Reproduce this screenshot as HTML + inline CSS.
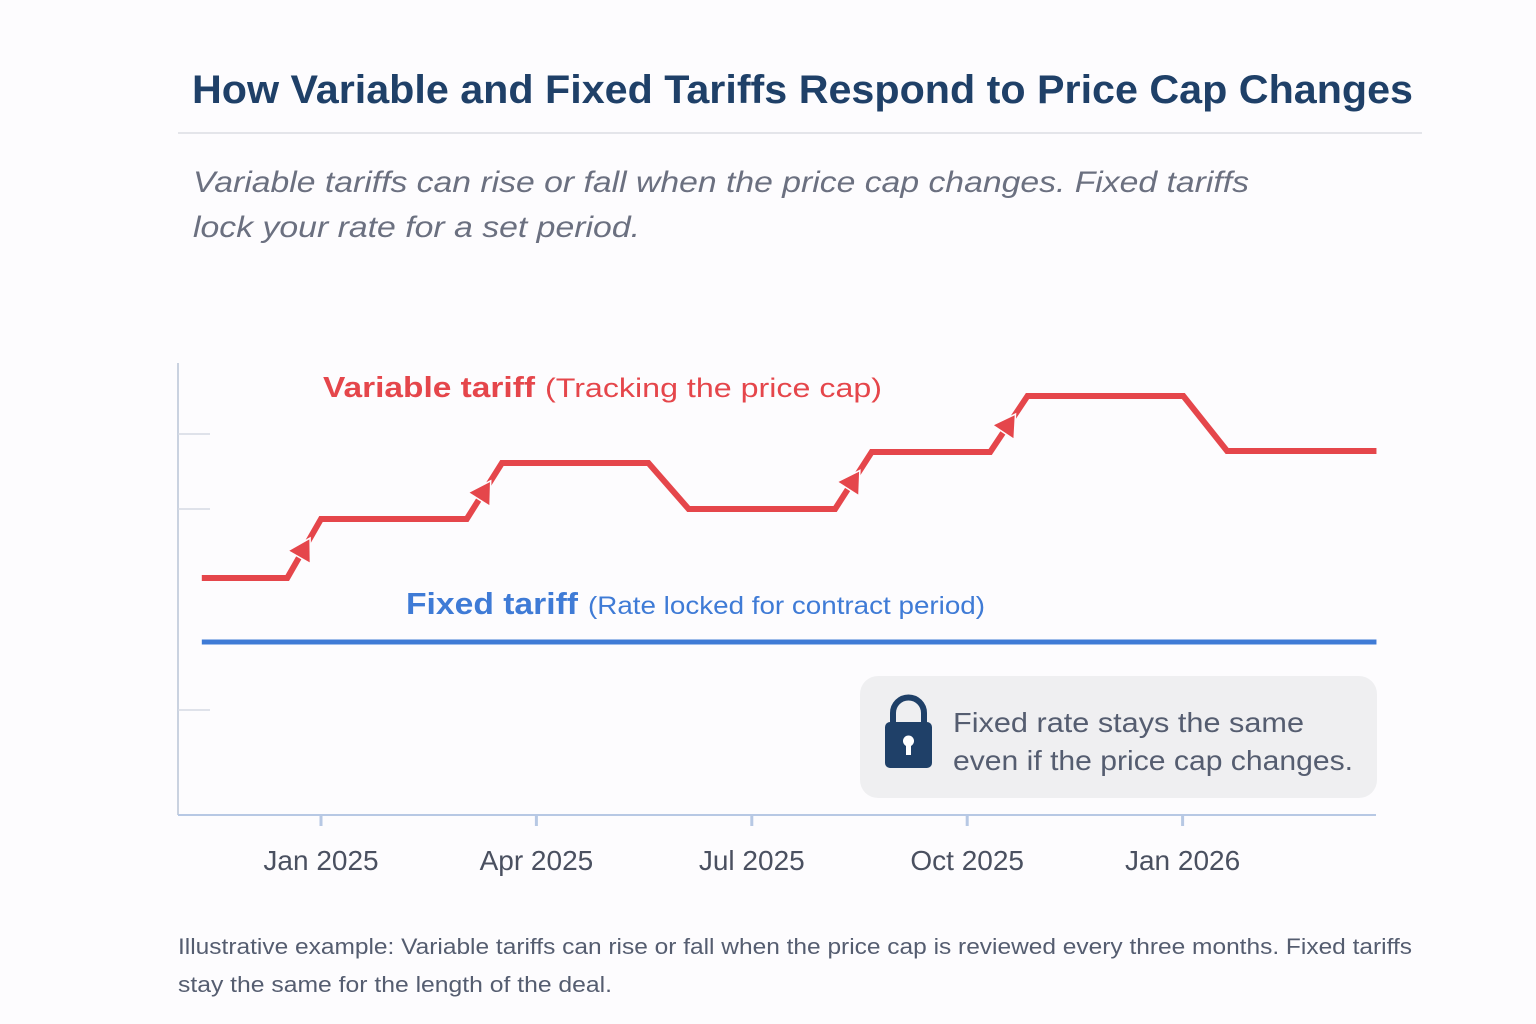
<!DOCTYPE html>
<html><head><meta charset="utf-8"><style>
html,body{margin:0;padding:0;background:#fdfcfe;}
svg{display:block;font-family:"Liberation Sans",sans-serif;}
</style></head><body>
<svg id="chart" width="1536" height="1024" viewBox="0 0 1536 1024" xmlns="http://www.w3.org/2000/svg">
<rect width="1536" height="1024" fill="#fdfcfe"/>
<text x="192" y="103" font-size="40" font-weight="bold" fill="#1f4068" textLength="1221" lengthAdjust="spacingAndGlyphs">How Variable and Fixed Tariffs Respond to Price Cap Changes</text>
<line x1="178" y1="133" x2="1422" y2="133" stroke="#dcdde3" stroke-width="1.5"/>
<text x="193" y="192" font-size="30" font-style="italic" fill="#6b7080" textLength="1056" lengthAdjust="spacingAndGlyphs">Variable tariffs can rise or fall when the price cap changes. Fixed tariffs</text>
<text x="193" y="237" font-size="30" font-style="italic" fill="#6b7080" textLength="447" lengthAdjust="spacingAndGlyphs">lock your rate for a set period.</text>

<g id="axes"></g>
<g id="series"></g>

<text x="323" y="397" font-size="29" fill="#e5464b"><tspan font-weight="bold" textLength="212" lengthAdjust="spacingAndGlyphs">Variable tariff</tspan><tspan x="545" font-size="27" textLength="337" lengthAdjust="spacingAndGlyphs">(Tracking the price cap)</tspan></text>
<text x="406" y="614" font-size="31" fill="#3f7bd6"><tspan font-weight="bold" textLength="172" lengthAdjust="spacingAndGlyphs">Fixed tariff</tspan><tspan x="588" font-size="25" textLength="397" lengthAdjust="spacingAndGlyphs">(Rate locked for contract period)</tspan></text>

<g>
<rect x="860" y="676" width="517" height="122" rx="18" fill="#efeff1"/>
<g>
<path d="M893 724 V713 a15.5 15.5 0 0 1 31 0 V724" fill="none" stroke="#1f4068" stroke-width="6"/>
<rect x="885" y="722" width="47" height="46" rx="5" fill="#1f4068"/>
<circle cx="908.5" cy="741" r="5.5" fill="#fff"/>
<rect x="906" y="742" width="5" height="13" fill="#fff"/>
</g>
<text x="953" y="732" font-size="28" fill="#555d70" textLength="351" lengthAdjust="spacingAndGlyphs">Fixed rate stays the same</text>
<text x="953" y="770" font-size="28" fill="#555d70" textLength="400" lengthAdjust="spacingAndGlyphs">even if the price cap changes.</text>
</g>

<text x="178" y="954" font-size="22" fill="#555d70" textLength="1234" lengthAdjust="spacingAndGlyphs">Illustrative example: Variable tariffs can rise or fall when the price cap is reviewed every three months. Fixed tariffs</text>
<text x="178" y="992" font-size="22" fill="#555d70" textLength="434" lengthAdjust="spacingAndGlyphs">stay the same for the length of the deal.</text>
</svg>
<script>
// Data (x in months from Jan 2025, y in arbitrary p/kWh units)
const varMonths = [-1.66, -0.47, 0, 2.03, 2.52, 4.56, 5.12, 7.16, 7.67, 9.32, 9.84, 12.01, 12.62, 14.7];
const varValues = [23.7, 23.7, 29.6, 29.6, 35.2, 35.2, 30.6, 30.6, 36.3, 36.3, 41.9, 41.9, 36.4, 36.4];
const fixedMonths = [-1.66, 14.7];
const fixedValues = [17.3, 17.3];
const tickMonths = [0, 3, 6, 9, 12];
const tickLabels = ["Jan 2025", "Apr 2025", "Jul 2025", "Oct 2025", "Jan 2026"];
const gridValues = [38.1, 30.6, 10.5];

const NS = "http://www.w3.org/2000/svg";
function xScale(m){ return 321 + m * 71.8; }
function yScale(v){ return 815 - v * 10; }
function mk(tag, attrs, parent){ const e = document.createElementNS(NS, tag); for (const k in attrs) e.setAttribute(k, attrs[k]); parent.appendChild(e); return e; }

const axes = document.getElementById('axes');
const series = document.getElementById('series');

const yAxis = mk('line', {x1:178, y1:363, x2:178, y2:815, stroke:'#b9c3d6', 'stroke-width':1.5}, axes);


const xAxis = mk('line', {x1:178, y1:815, x2:1376, y2:815, stroke:'#b7c8e4', 'stroke-width':2}, axes);



gridValues.forEach(v => {
  const g = mk('line', {x1:178, y1:yScale(v), x2:210, y2:yScale(v), stroke:'#d5dae4', 'stroke-width':1.5}, axes);
  
  
});

tickMonths.forEach((m, i) => {
  const x = xScale(m);
  const t = mk('line', {x1:x, y1:815, x2:x, y2:826, stroke:'#b7c8e4', 'stroke-width':3}, axes);
  
  
  const l = mk('text', {x:x, y:870, 'font-size':28, fill:'#4a5060', 'text-anchor':'middle'}, axes);
  l.textContent = tickLabels[i];
  
  
});

const fixedPts = fixedMonths.map((m, i) => xScale(m) + ',' + yScale(fixedValues[i])).join(' ');
const fixedLine = mk('polyline', {points:fixedPts, fill:'none', stroke:'#3f7bd6', 'stroke-width':5}, series);



const varPts = varMonths.map((m, i) => xScale(m) + ',' + yScale(varValues[i])).join(' ');
const varLine = mk('polyline', {points:varPts, fill:'none', stroke:'#e5464b', 'stroke-width':6, 'stroke-linejoin':'miter'}, series);



// arrows on rising segments
for (let i = 0; i < varMonths.length - 1; i++) {
  if (varValues[i+1] > varValues[i] && varMonths[i+1] !== varMonths[i]) {
    const x1 = xScale(varMonths[i]), y1 = yScale(varValues[i]);
    const x2 = xScale(varMonths[i+1]), y2 = yScale(varValues[i+1]);
    const cx = x1 + (x2 - x1) * 0.5, cy = y1 + (y2 - y1) * 0.5;
    const ang = Math.atan2(y2 - y1, x2 - x1) * 180 / Math.PI;
    const a = mk('polygon', {points:'12,0 -10,-13 -10,13', fill:'#e5464b', stroke:'#fdfcfe', 'stroke-width':1.5, transform:`translate(${cx},${cy}) rotate(${ang})`}, series);
    
    
  }
}
</script>
</body></html>
